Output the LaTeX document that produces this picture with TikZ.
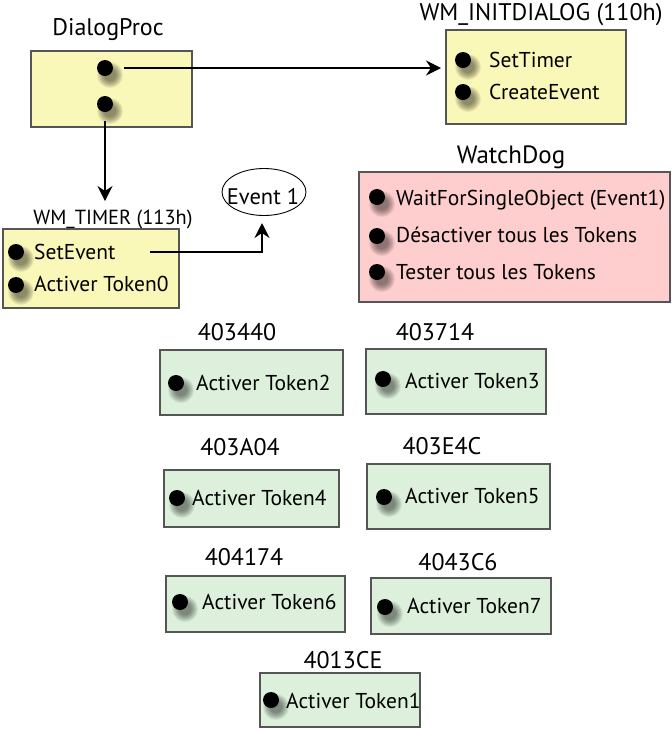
\documentclass[tikz,border=0pt]{standalone}
\usepackage{fontspec}
\setmainfont{PT Sans}
\usetikzlibrary{arrows.meta,shapes.geometric}
\definecolor{yfill}{RGB}{250,248,184}
\definecolor{pfill}{RGB}{254,205,205}
\definecolor{gfill}{RGB}{220,240,220}
\definecolor{bord}{RGB}{85,85,85}
\tikzset{
  boxbase/.style={draw=bord, line width=1.2pt, inner sep=0pt, outer sep=0pt},
  ybox/.style={boxbase, fill=yfill},
  pbox/.style={boxbase, fill=pfill},
  gbox/.style={boxbase, fill=gfill},
  bdot/.style={circle, fill=black, minimum size=16pt, inner sep=0pt},
  txt/.style={anchor=base west, inner sep=0pt, font=\fontsize{21.5}{26}\selectfont},
  lbl/.style={anchor=base, inner sep=0pt, font=\fontsize{24}{28}\selectfont},
  conn/.style={line width=1.8pt, -{Stealth[length=15pt,width=15pt,inset=5pt]}},
}
\newcommand\mybox[6]{%
  \node[#2, minimum width={(#5-#3)*1pt}, minimum height={(#6-#4)*1pt}] (#1) at ({(#3+#5)/2},{(#4+#6)/2}) {};}
\newcommand\sdot[3]{%
  \foreach \rr in {13,12,11,10,9,8,7,6}{\fill[black, opacity=0.065] (#2+5,#3+7) circle (\rr pt);}
  \node[bdot] (#1) at (#2,#3) {};}
\begin{document}
\begin{tikzpicture}[x=1pt,y=-1pt]
\useasboundingbox (0,0) rectangle (672,732);
% DialogProc
\node[lbl] (dplab) at (108,35) {DialogProc};
\mybox{dp}{ybox}{31}{51}{192}{127}
\sdot{d1}{105}{68}
\sdot{d2}{105}{104}
% WM_INITDIALOG
\node[lbl] (inlab) at (541,20) {WM\_INITDIALOG (110h)};
\mybox{ini}{ybox}{446}{30}{626}{124}
\sdot{i1}{463}{60}
\sdot{i2}{463}{92}
\node[txt] (it1) at (489,67) {SetTimer};
\node[txt] (it2) at (489,99) {CreateEvent};
% WatchDog
\node[lbl, font=\fontsize{25}{30}\selectfont] (wdlab) at (511,163) {WatchDog};
\mybox{wd}{pbox}{359}{172}{670}{302}
\sdot{w1}{377}{197}
\sdot{w2}{377}{236}
\sdot{w3}{377}{272}
\node[txt] (wt1) at (396,205) {WaitForSingleObject (Event1)};
\node[txt] (wt2) at (396,242) {Désactiver tous les Tokens};
\node[txt] (wt3) at (396,279) {Tester tous les Tokens};
% WM_TIMER
\node[lbl, font=\fontsize{20.4}{24}\selectfont] (tmlab) at (113,224) {WM\_TIMER (113h)};
\mybox{tm}{ybox}{3}{229}{179}{308}
\sdot{t1}{16}{252}
\sdot{t2}{16}{285}
\node[txt] (setev) at (34,259) {SetEvent};
\node[txt] (tt2) at (34,291) {Activer Token0};
% Event 1
\node[ellipse, draw=black, line width=0.9pt, minimum width=84pt, minimum height=47pt, inner sep=0pt] (ev) at (264,192) {};
\node[lbl, font=\fontsize{22.5}{27}\selectfont] (evt) at (263,204) {Event 1};
% Token boxes
\node[lbl] (l2) at (237,340) {403440};
\mybox{b2}{gbox}{160}{350}{343}{415}
\sdot{k2}{176}{383}
\node[txt] (x2) at (196,390) {Activer Token2};
\node[lbl] (l3) at (435,340) {403714};
\mybox{b3}{gbox}{366}{349}{546}{414}
\sdot{k3}{383}{379}
\node[txt] (x3) at (405,388) {Activer Token3};
\node[lbl] (l4) at (240,455) {403A04};
\mybox{b4}{gbox}{164}{470}{339}{527}
\sdot{k4}{177}{498}
\node[txt] (x4) at (192,505) {Activer Token4};
\node[lbl] (l5) at (442,454) {403E4C};
\mybox{b5}{gbox}{367}{464}{550}{529}
\sdot{k5}{384}{497}
\node[txt] (x5) at (405,503) {Activer Token5};
\node[lbl] (l6) at (244,565) {404174};
\mybox{b6}{gbox}{166}{576}{345}{632}
\sdot{k6}{180}{602}
\node[txt] (x6) at (202,609) {Activer Token6};
\node[lbl] (l7) at (458,570) {4043C6};
\mybox{b7}{gbox}{371}{578}{551}{634}
\sdot{k7}{385}{607}
\node[txt] (x7) at (407,613) {Activer Token7};
\node[lbl] (l1) at (343,668) {4013CE};
\mybox{b1}{gbox}{260}{673}{420}{727}
\sdot{k1}{271}{700}
\node[txt] (x1) at (286,708) {Activer Token1};
% connectors
\draw[conn, shorten <=11pt, shorten >=5pt] (d1.east) -- (ini.west |- d1);
\coordinate (ta) at (105,201);
\draw[conn, shorten <=9pt] (d2.south) -- (ta);
\coordinate (se) at (150,252);
\coordinate (evb) at (262,223);
\draw[conn, line width=1.6pt] (se) -| (evb);
\end{tikzpicture}
\end{document}
